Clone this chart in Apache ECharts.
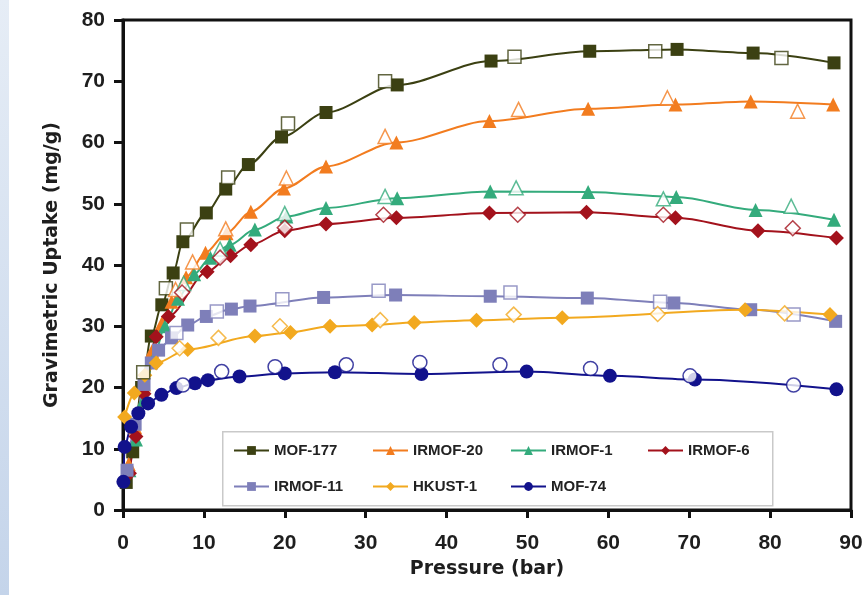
<!DOCTYPE html>
<html>
<head>
<meta charset="utf-8">
<title>Gravimetric Uptake</title>
<script src="https://cdn.jsdelivr.net/npm/echarts@6.0.0/dist/echarts.min.js"></script>
<style>
body{margin:0;padding:0;background:#fff;}
#chart{width:868px;height:595px;}
</style>
</head>
<body>
<div id="chart"></div>
<script>
// materials and axis ticks
var materials = ['MOF-177', 'IRMOF-20', 'IRMOF-1', 'IRMOF-6', 'IRMOF-11', 'HKUST-1', 'MOF-74'];
var xTicks = [0, 10, 20, 30, 40, 50, 60, 70, 80, 90];
var yTicks = [0, 10, 20, 30, 40, 50, 60, 70, 80];

// adsorption (filled markers), [pressure bar, uptake mg/g]
var mof177Ads = [[0.4, 4.5], [1.2, 9.5], [2.3, 20], [3.5, 28.4], [4.8, 33.5], [6.2, 38.7], [7.4, 43.8], [10.3, 48.5], [12.7, 52.4], [15.5, 56.4], [19.6, 60.9], [25.1, 64.9], [33.9, 69.4], [45.5, 73.3], [57.7, 74.9], [68.5, 75.2], [77.9, 74.6], [87.9, 73.0]];
var irmof20Ads = [[0.7, 7.5], [1.5, 13.5], [2.6, 20.5], [3.6, 26], [4.8, 30.5], [6.0, 34], [7.8, 38], [10.2, 42], [12.8, 45.2], [15.8, 48.7], [19.9, 52.5], [25.1, 56.1], [33.8, 60.0], [45.3, 63.5], [57.5, 65.5], [68.3, 66.2], [77.6, 66.7], [87.8, 66.2]];
var irmof1Ads = [[0.8, 6.5], [1.6, 11.5], [2.6, 18], [3.7, 24.5], [5.2, 30], [6.8, 34.5], [8.8, 38.5], [10.8, 41.2], [13.2, 43.3], [16.3, 45.8], [20.2, 47.9], [25.1, 49.3], [33.9, 50.9], [45.4, 52.0], [57.5, 51.9], [68.4, 51.1], [78.2, 49.0], [87.9, 47.4]];
var irmof6Ads = [[0.8, 6], [1.6, 12], [2.6, 19], [4.1, 28.3], [5.6, 31.6], [10.4, 38.9], [13.3, 41.5], [15.8, 43.3], [20.0, 45.6], [25.1, 46.7], [33.8, 47.7], [45.3, 48.5], [57.3, 48.6], [68.3, 47.7], [78.5, 45.6], [88.2, 44.4]];
var irmof11Ads = [[0.5, 6.5], [1.5, 14], [2.6, 20.5], [3.5, 24], [4.4, 26.1], [6.0, 28.1], [8.0, 30.2], [10.3, 31.6], [13.4, 32.8], [15.7, 33.3], [24.8, 34.7], [33.7, 35.1], [45.4, 34.9], [57.4, 34.6], [68.1, 33.8], [77.6, 32.7], [88.1, 30.8]];
var hkust1Ads = [[0.2, 15.2], [1.4, 19.1], [2.7, 22.0], [4.1, 24.0], [8.0, 26.2], [16.3, 28.4], [20.7, 29.0], [25.6, 30.0], [30.8, 30.2], [36.0, 30.6], [43.7, 31.0], [54.3, 31.4], [76.9, 32.7], [87.4, 31.9]];
var mof74Ads = [[0.05, 4.6], [0.2, 10.3], [1.0, 13.6], [1.9, 15.8], [3.1, 17.4], [4.75, 18.8], [6.6, 19.9], [8.9, 20.7], [10.5, 21.2], [14.4, 21.8], [20.0, 22.3], [26.2, 22.5], [36.9, 22.2], [49.9, 22.6], [60.2, 21.9], [70.7, 21.3], [88.2, 19.7]];

// desorption (open markers)
var mof177Des = [[2.5, 22.5], [5.3, 36.2], [7.9, 45.8], [13.0, 54.3], [20.4, 63.1], [32.4, 70.0], [48.4, 74.0], [65.8, 74.9], [81.4, 73.8]];
var irmof20Des = [[6.5, 36], [8.6, 40.5], [12.7, 45.9], [20.2, 54.2], [32.4, 61.0], [48.9, 65.4], [67.3, 67.3], [83.4, 65.1]];
var irmof1Des = [[7.5, 37], [12.0, 42.6], [20.0, 48.4], [32.4, 51.2], [48.6, 52.6], [66.8, 50.8], [82.6, 49.6]];
var irmof6Des = [[7.3, 35.5], [12.0, 41.2], [20.0, 46.1], [32.2, 48.2], [48.8, 48.2], [66.8, 48.2], [82.8, 46.0]];
var irmof11Des = [[6.6, 28.9], [11.6, 32.4], [19.7, 34.4], [31.6, 35.8], [47.9, 35.5], [66.4, 34.0], [82.9, 31.9]];
var hkust1Des = [[7.0, 26.4], [11.8, 28.1], [19.4, 30.0], [31.8, 31.0], [48.3, 31.9], [66.1, 32.0], [81.8, 32.1]];
var mof74Des = [[7.4, 20.4], [12.2, 22.6], [18.8, 23.4], [27.6, 23.7], [36.7, 24.1], [46.6, 23.7], [57.8, 23.1], [70.1, 21.9], [82.9, 20.4]];

var adsData = [mof177Ads, irmof20Ads, irmof1Ads, irmof6Ads, irmof11Ads, hkust1Ads, mof74Ads];
var desData = [mof177Des, irmof20Des, irmof1Des, irmof6Des, irmof11Des, hkust1Des, mof74Des];

var colors = ['#3b4012', '#f27c1f', '#34ab7c', '#a3121c', '#7e7fb9', '#f2a91f', '#12128c'];
var symbols = ['rect', 'triangle', 'triangle', 'diamond', 'rect', 'diamond', 'circle'];
var symSize = [13, 14, 14, 15, 13, 15, 14];

var axisFont = "'Liberation Sans', Arial, sans-serif";
var nameFont = "'DejaVu Sans', sans-serif";

var series = [];
for (var i = 0; i < materials.length; i++) {
	series.push({
		name: materials[i],
		type: 'line',
		data: adsData[i],
		smooth: 0.3,
		smoothMonotone: 'x',
		symbol: symbols[i],
		symbolSize: symSize[i],
		showAllSymbol: true,
		color: colors[i],
		lineStyle: {width: 2, color: colors[i]},
		itemStyle: {color: colors[i]},
		z: 2
	});
}
for (var j = 0; j < materials.length; j++) {
	series.push({
		name: materials[j] + ' (des)',
		type: 'scatter',
		data: desData[j],
		symbol: symbols[j],
		symbolSize: symSize[j],
		itemStyle: {color: '#fff', borderColor: colors[j], borderWidth: 1.5},
		z: 3
	});
}

// legend laid out as 4 columns x 2 rows
var colX = [233, 372, 510, 647];
var rowY = [443, 479];
var legends = [];
for (var k = 0; k < materials.length; k++) {
	legends.push({
		data: [materials[k]],
		left: colX[k % 4],
		top: rowY[Math.floor(k / 4)],
		padding: 0,
		itemWidth: 35,
		itemHeight: 11,
		selectedMode: false,
		textStyle: {fontFamily: axisFont, fontWeight: 'bold', fontSize: 15, color: '#222'}
	});
}

var myChart = echarts.init(document.getElementById('chart'));
myChart.setOption({
	animation: false,
	backgroundColor: '#fff',
	graphic: [
		{
			type: 'rect', left: 0, top: 0, z: 0,
			shape: {width: 9, height: 595},
			style: {fill: new echarts.graphic.LinearGradient(0, 0, 0, 1, [
				{offset: 0, color: '#e6edf6'}, {offset: 1, color: '#c4d4ea'}])}
		},
		{
			type: 'rect', left: 222, top: 431, z: 3,
			shape: {width: 550, height: 74},
			style: {fill: '#fff', stroke: '#c9c9c9', lineWidth: 1.5}
		}
	],
	grid: {left: 123, right: 17, top: 20, bottom: 85, show: true, borderColor: '#111', borderWidth: 3},
	legend: legends,
	xAxis: {
		type: 'value',
		min: xTicks[0], max: xTicks[xTicks.length - 1], interval: 10,
		name: 'Pressure (bar)',
		nameLocation: 'middle',
		nameGap: 50,
		nameTextStyle: {fontFamily: nameFont, fontWeight: 'bold', fontSize: 19, color: '#1e1e1e'},
		axisLine: {lineStyle: {color: '#111', width: 3}},
		axisTick: {show: true, length: 8, lineStyle: {color: '#111', width: 3}},
		axisLabel: {margin: 23, fontFamily: axisFont, fontWeight: 'bold', fontSize: 21, color: '#1e1e1e'},
		splitLine: {show: false}
	},
	yAxis: {
		type: 'value',
		min: yTicks[0], max: yTicks[yTicks.length - 1], interval: 10,
		name: 'Gravimetric Uptake (mg/g)',
		nameLocation: 'middle',
		nameGap: 61,
		nameTextStyle: {fontFamily: nameFont, fontWeight: 'bold', fontSize: 19, color: '#1e1e1e'},
		axisLine: {lineStyle: {color: '#111', width: 3}},
		axisTick: {show: true, length: 9, lineStyle: {color: '#111', width: 3}},
		axisLabel: {margin: 18, fontFamily: axisFont, fontWeight: 'bold', fontSize: 21, color: '#1e1e1e'},
		splitLine: {show: false}
	},
	series: series
});
</script>
</body>
</html>
